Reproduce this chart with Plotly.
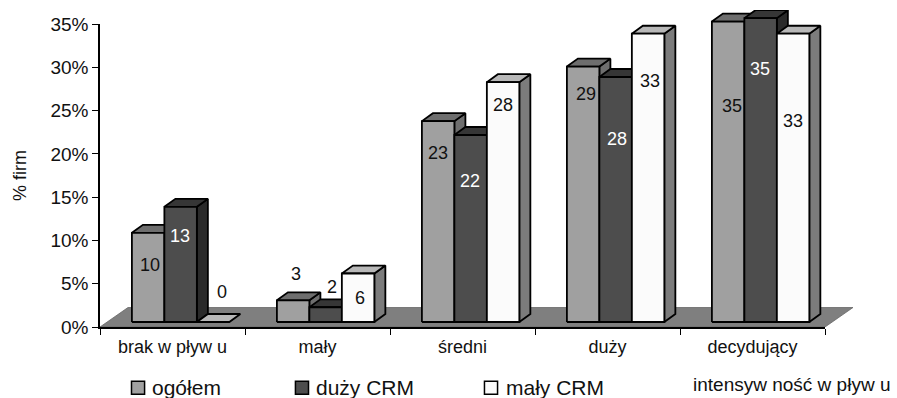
import plotly.graph_objects as go

categories = ["brak w pływ u", "mały", "średni", "duży", "decydujący"]
series_names = ["ogółem", "duży CRM", "mały CRM"]
ogolem = [10.3, 2.5, 23.2, 29.5, 34.7]
duzy_crm = [13.3, 1.7, 21.6, 28.3, 35.1]
maly_crm = [0.0, 5.6, 27.7, 33.3, 33.3]
labels_ogolem = ["10", "3", "23", "29", "35"]
labels_duzy = ["13", "2", "22", "28", "35"]
labels_maly = ["0", "6", "28", "33", "33"]
y_ticks = [0, 5, 10, 15, 20, 25, 30, 35]

# label anchor positions (data units)
label_x = [[-0.155, 0.852, 1.831, 2.852, 3.859],
           [0.052, 1.10, 2.052, 3.066, 4.052],
           [0.341, 1.293, 2.279, 3.293, 4.279]]
label_y = [[7.0, 5.9, 19.9, 26.7, 25.3],
           [10.3, 4.4, 16.7, 21.5, 29.6],
           [3.9, 3.2, 25.5, 28.2, 23.6]]

FONT = "Liberation Sans"
INK = "#111111"
# (front, top, side)
STYLES = [("#a0a0a0", "#6e6e6e", "#6e6e6e"),
          ("#4d4d4d", "#363636", "#2a2a2a"),
          ("#fbfbfb", "#b8b8b8", "#7c7c7c")]
# label colours per bar: white only where the label sits on a dark face
LABEL_COLORS = [[INK] * 5,
                ["#ffffff", INK, "#ffffff", "#ffffff", "#ffffff"],
                [INK] * 5]
BAR_W = 0.224
GROUP_OFF = -0.28
DX, DY = 0.076, 0.92
BASE = 0.58
FLOOR_DX, FLOOR_DY = 0.193, 2.25
# the drawing layer is larger than the axes so that the depth can stick out
AX_W, AX_H = 725, 303
LAYER_W, LAYER_H = 770, 317
X_SPAN, Y_SPAN = 5.0, 35.0

fig = go.Figure()


def poly(xs, ys, color, lw=1.8, line="#000000"):
    fig.add_trace(go.Scatter(
        x=xs + xs[:1], y=ys + ys[:1], mode="lines", fill="toself", fillcolor=color,
        line=dict(color=line, width=lw), xaxis="x2", yaxis="y2",
        hoverinfo="skip", showlegend=False))


# hidden trace that holds the category axis
fig.add_trace(go.Bar(x=categories, y=ogolem, opacity=0, xaxis="x", yaxis="y",
                     hoverinfo="skip", showlegend=False))

# floor
L, R = -0.5, 4.5
poly([L, R, R + FLOOR_DX, L + FLOOR_DX], [0, 0, FLOOR_DY, FLOOR_DY], "#7f7f7f", 0.8, "#666666")

values = [ogolem, duzy_crm, maly_crm]
for g in range(len(categories)):
    for s, vals in enumerate(values):
        front, top, side = STYLES[s]
        x0 = g + GROUP_OFF + s * BAR_W
        x1 = x0 + BAR_W
        y0, y1 = BASE, BASE + vals[g]
        if vals[g] > 0:
            poly([x1, x1 + DX, x1 + DX, x1], [y0, y0 + DY, y1 + DY, y1], side)
        poly([x0, x1, x1 + DX, x0 + DX], [y1, y1, y1 + DY, y1 + DY], top)
        if vals[g] > 0:
            poly([x0, x1, x1, x0], [y0, y0, y1, y1], front)

# data labels
all_labels = [labels_ogolem, labels_duzy, labels_maly]
for s in range(3):
    fig.add_trace(go.Scatter(
        x=label_x[s], y=label_y[s], text=all_labels[s], mode="text", xaxis="x2", yaxis="y2",
        textfont=dict(family=FONT, size=18, color=LABEL_COLORS[s]), textposition="middle center",
        hoverinfo="skip", showlegend=False))

# legend drawn by hand, paper fractions of the drawing layer
legend_sq = [0.0494, 0.2623, 0.5078]
legend_tx = [0.065, 0.278, 0.5247]
LEG_Y = -0.192
SQ_W, SQ_H = 0.0085, 0.0205
shapes = []
annots = []
for s, name in enumerate(series_names):
    c = legend_sq[s]
    shapes.append(dict(type="rect", xref="paper", yref="paper", x0=c - SQ_W, x1=c + SQ_W,
                       y0=LEG_Y - SQ_H, y1=LEG_Y + SQ_H, fillcolor=STYLES[s][0],
                       line=dict(color="#000000", width=1.5)))
    annots.append(dict(text=name, xref="paper", yref="paper", x=legend_tx[s], y=LEG_Y,
                       xanchor="left", yanchor="middle", showarrow=False,
                       font=dict(family=FONT, size=21, color=INK)))
annots.append(dict(text="intensyw ność w pływ u", xref="paper", yref="paper", x=0.8987, y=-0.18,
                   xanchor="center", yanchor="middle", showarrow=False,
                   font=dict(family=FONT, size=19, color=INK)))

fig.update_layout(
    width=897, height=398, margin=dict(l=100, r=27, t=10, b=71),
    paper_bgcolor="#ffffff", plot_bgcolor="rgba(0,0,0,0)", showlegend=False,
    font=dict(family=FONT, color=INK),
    xaxis=dict(type="category", categoryorder="array", categoryarray=categories,
               domain=[0, AX_W / LAYER_W], anchor="y", automargin=False,
               range=[-0.5, 4.5], tickson="boundaries", ticks="outside", ticklen=6, tickwidth=1,
               tickcolor="#000000", showline=True, linecolor="#000000", linewidth=1.5,
               ticklabelstandoff=3,
               showgrid=False, zeroline=False, tickfont=dict(family=FONT, size=18, color=INK)),
    yaxis=dict(domain=[0, AX_H / LAYER_H], anchor="x", automargin=False,
               range=[0, Y_SPAN], tickvals=y_ticks, ticktext=[f"{v}%" for v in y_ticks],
               ticks="outside", ticklen=6, tickwidth=1, tickcolor="#000000", showline=True,
               linecolor="#000000", linewidth=1.5, showgrid=False, zeroline=False,
               tickfont=dict(family=FONT, size=19, color=INK),
               title=dict(text="% firm", font=dict(family=FONT, size=18, color=INK), standoff=19)),
    xaxis2=dict(domain=[0, 1], anchor="y2", range=[-0.5, -0.5 + X_SPAN * LAYER_W / AX_W],
                visible=False, automargin=False),
    yaxis2=dict(domain=[0, 1], anchor="x2", range=[0, Y_SPAN * LAYER_H / AX_H],
                visible=False, automargin=False),
    shapes=shapes, annotations=annots, barmode="overlay",
)

fig.write_html("out.html", config={"displayModeBar": False},
               post_script="document.body.style.margin='0';")
